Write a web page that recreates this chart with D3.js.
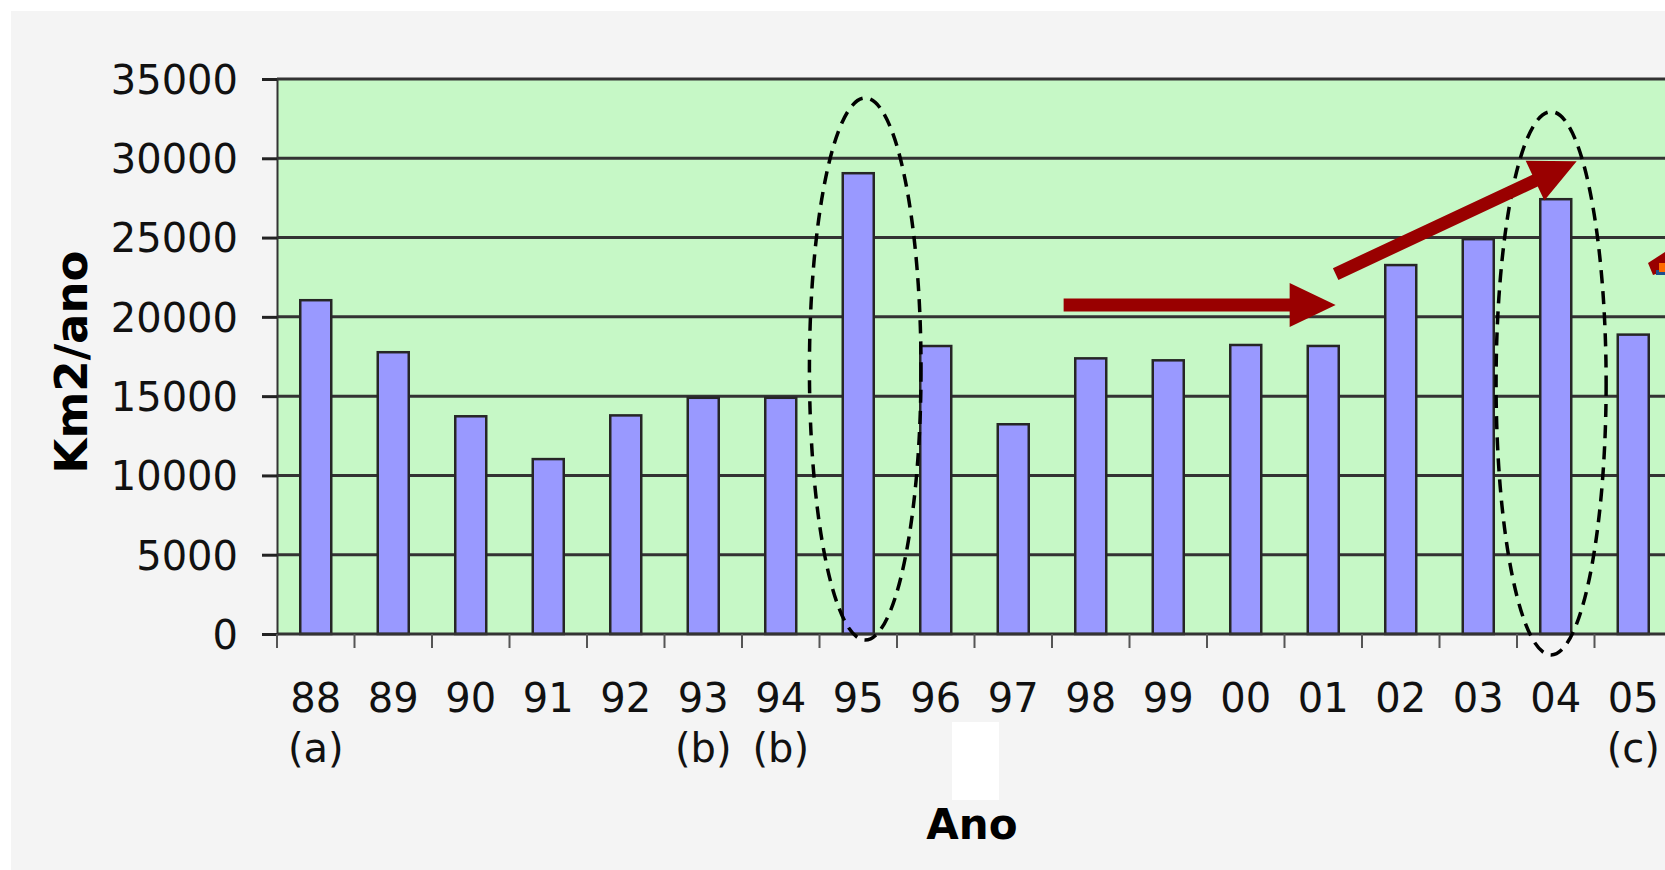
<!DOCTYPE html>
<html lang="pt">
	<head>
		<meta charset="utf-8">
		<title>Desmatamento anual</title>
		<script type="text/javascript" src="https://cdn.jsdelivr.net/npm/d3@7"></script>
		<style type="text/css">
			html, body {
				margin: 0;
				padding: 0;
				background: #ffffff;
				font-family: "DejaVu Sans", Verdana, sans-serif;
			}
			svg { display: block; }
		</style>
	</head>
	<body>
		<script type="text/javascript">

			// data
			let years = ["88", "89", "90", "91", "92", "93", "94", "95", "96", "97", "98", "99", "00", "01", "02", "03", "04", "05"];
			let area = [21050, 17770, 13730, 11030, 13786, 14896, 14896, 29059, 18161, 13227, 17383, 17259, 18226, 18165, 23266, 24900, 27420, 18880];
			let notes = ["(a)", "", "", "", "", "(b)", "(b)", "", "", "", "", "", "", "", "", "", "", "(c)"];
			let yTicks = [0, 5000, 10000, 15000, 20000, 25000, 30000, 35000];

			// annotations, in band steps (x) and km2 (y)
			let ellipses = [
				{ cx: 7.59, top: 33800, bottom: -380, rx: 0.72 },
				{ cx: 16.44, top: 32940, bottom: -1320, rx: 0.71 }
			];
			let arrows = [
				{ x0: 10.15, y0: 20740, x1: 13.66, y1: 20740 },
				{ x0: 13.66, y0: 22700, x1: 16.77, y1: 29820 }
			];

			//Width and height
			let w = 1665;
			let h = 870;
			let plotLeft = 277, plotTop = 79, plotBottom = 634;

			let svg = d3.select("body")
						.append("svg")
						.attr("width", w)
						.attr("height", h);

			// gray panel with white margin
			svg.append("rect")
				.attr("x", 11).attr("y", 11)
				.attr("width", w - 11).attr("height", h - 11)
				.attr("fill", "#f4f4f4");

			let xScale = d3.scaleBand()
							.domain(years)
							.range([plotLeft, plotLeft + years.length * 77.5])
							.paddingInner(0.6)
							.paddingOuter(0.3);

			let yScale = d3.scaleLinear()
							.domain([0, 35000])
							.range([plotBottom, plotTop]);

			let step = xScale.step();
			let ux = (u) => plotLeft + u * step;

			// plot area
			svg.append("rect")
				.attr("x", plotLeft).attr("y", plotTop)
				.attr("width", w - plotLeft).attr("height", plotBottom - plotTop)
				.attr("fill", "#c6f8c6");

			// gridlines
			svg.selectAll(".grid")
				.data(yTicks.slice(1))
				.enter()
				.append("line")
				.attr("x1", plotLeft).attr("x2", w)
				.attr("y1", (d) => yScale(d))
				.attr("y2", (d) => yScale(d))
				.attr("stroke", "#333")
				.attr("stroke-width", 3);

			// y axis
			let yAxis = d3.axisLeft(yScale)
							.tickValues(yTicks)
							.tickSize(15)
							.tickPadding(24)
							.tickFormat(d3.format("d"));

			let gy = svg.append("g")
						.attr("transform", "translate(" + plotLeft + ",0)")
						.call(yAxis);
			gy.select(".domain").attr("stroke", "#333").attr("stroke-width", 2);
			gy.selectAll(".tick line").attr("stroke", "#222").attr("stroke-width", 3);
			gy.selectAll(".tick text")
				.attr("font-family", "DejaVu Sans")
				.attr("font-size", "40px")
				.attr("fill", "#111")
				.attr("dy", "0.36em");

			// bars
			svg.selectAll(".bar")
				.data(years)
				.enter()
				.append("rect")
				.attr("x", (d) => xScale(d))
				.attr("y", (d, i) => yScale(area[i]))
				.attr("width", xScale.bandwidth())
				.attr("height", (d, i) => plotBottom - yScale(area[i]))
				.attr("fill", "#9999ff")
				.attr("stroke", "#262626")
				.attr("stroke-width", 2.5);

			// x axis line and ticks between categories
			svg.append("line")
				.attr("x1", plotLeft).attr("x2", w)
				.attr("y1", plotBottom).attr("y2", plotBottom)
				.attr("stroke", "#333")
				.attr("stroke-width", 3);

			svg.selectAll(".xtick")
				.data(years)
				.enter()
				.append("line")
				.attr("x1", (d) => xScale(d) - step * 0.3)
				.attr("x2", (d) => xScale(d) - step * 0.3)
				.attr("y1", plotBottom).attr("y2", plotBottom + 14)
				.attr("stroke", "#555")
				.attr("stroke-width", 2);

			let xAxis = d3.axisBottom(xScale).tickSize(0).tickPadding(0);
			let gx = svg.append("g")
						.attr("transform", "translate(0," + plotBottom + ")")
						.call(xAxis);
			gx.select(".domain").remove();
			gx.selectAll(".tick text")
				.attr("font-family", "DejaVu Sans")
				.attr("font-size", "40px")
				.attr("fill", "#111")
				.attr("y", 78)
				.attr("dy", null);

			// notes under the years
			svg.selectAll(".note")
				.data(years)
				.enter()
				.append("text")
				.attr("x", (d) => xScale(d) + xScale.bandwidth() / 2)
				.attr("y", 762)
				.attr("text-anchor", "middle")
				.attr("font-family", "DejaVu Sans")
				.attr("font-size", "40px")
				.attr("fill", "#111")
				.text((d, i) => notes[i]);

			// white patch below the labels
			svg.append("rect")
				.attr("x", 952).attr("y", 722)
				.attr("width", 47).attr("height", 78)
				.attr("fill", "#ffffff");

			// axis titles
			svg.append("text")
				.attr("x", 972).attr("y", 839)
				.attr("text-anchor", "middle")
				.attr("font-family", "DejaVu Sans")
				.attr("font-weight", "bold")
				.attr("font-size", "42px")
				.attr("fill", "#000")
				.text("Ano");

			svg.append("text")
				.attr("transform", "translate(87,362) rotate(-90)")
				.attr("text-anchor", "middle")
				.attr("font-family", "DejaVu Sans")
				.attr("font-weight", "bold")
				.attr("font-size", "45px")
				.attr("fill", "#000")
				.text("Km2/ano");

			// dashed ellipses
			svg.selectAll(".ell")
				.data(ellipses)
				.enter()
				.append("ellipse")
				.attr("cx", (d) => ux(d.cx))
				.attr("cy", (d) => (yScale(d.top) + yScale(d.bottom)) / 2)
				.attr("rx", (d) => d.rx * step)
				.attr("ry", (d) => (yScale(d.bottom) - yScale(d.top)) / 2)
				.attr("fill", "none")
				.attr("stroke", "#000")
				.attr("stroke-width", 3.5)
				.attr("stroke-dasharray", "13 8");

			// red arrows
			function arrowPath(x0, y0, x1, y1) {
				let dx = x1 - x0, dy = y1 - y0;
				let len = Math.sqrt(dx * dx + dy * dy);
				let ex = dx / len, ey = dy / len;
				let nx = -ey, ny = ex;
				let sw = 6.5, hl = 46, hw = 22;
				let bx = x1 - ex * hl, by = y1 - ey * hl;
				let pts = [
					[x0 + nx * sw, y0 + ny * sw],
					[bx + nx * sw, by + ny * sw],
					[bx + nx * hw, by + ny * hw],
					[x1, y1],
					[bx - nx * hw, by - ny * hw],
					[bx - nx * sw, by - ny * sw],
					[x0 - nx * sw, y0 - ny * sw]
				];
				return "M" + pts.map((p) => p[0] + "," + p[1]).join("L") + "Z";
			}

			svg.selectAll(".arrow")
				.data(arrows)
				.enter()
				.append("path")
				.attr("d", (d) => arrowPath(ux(d.x0), yScale(d.y0), ux(d.x1), yScale(d.y1)))
				.attr("fill", "#990000");

			// piece of another arrow cut by the right edge
			svg.append("path")
				.attr("d", "M1648,263L1665,252L1665,271L1653,275Z")
				.attr("fill", "#990000");
			svg.append("rect")
				.attr("x", 1656).attr("y", 270).attr("width", 9).attr("height", 5)
				.attr("fill", "#1f4e8c");
			svg.append("rect")
				.attr("x", 1659).attr("y", 263).attr("width", 6).attr("height", 9)
				.attr("fill", "#ff6a00");

		</script>
	</body>
</html>
